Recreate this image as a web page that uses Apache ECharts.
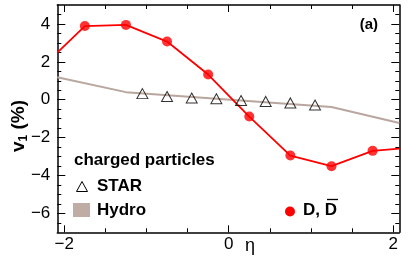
<!DOCTYPE html>
<html>
<head>
<meta charset="utf-8">
<script src="https://cdn.jsdelivr.net/npm/echarts@6/dist/echarts.min.js"></script>
<style>
html,body{margin:0;padding:0;background:#fff;}
#c{width:408px;height:262px;}
</style>
</head>
<body>
<div id="c"></div>
<script>
// ---- data ----
var dEta = [-1.75, -1.25, -0.75, -0.25, 0.25, 0.75, 1.25, 1.75];
var dV1 = [3.89, 3.95, 3.07, 1.33, -0.89, -2.95, -3.51, -2.70];
var dCurveEta = [-2.085, -1.75, -1.25, -0.75, -0.25, 0.25, 0.75, 1.25, 1.75, 2.075];
var dCurveV1 = [2.49, 3.89, 3.95, 3.07, 1.33, -0.89, -2.95, -3.51, -2.70, -2.58];
var starEta = [-1.05, -0.75, -0.45, -0.15, 0.15, 0.45, 0.75, 1.05];
var starV1 = [0.32, 0.17, 0.09, 0.05, -0.04, -0.09, -0.17, -0.28];
var hydroEta = [-2.085, -1.25, 1.25, 2.075];
var hydroV1 = [1.19, 0.40, -0.38, -1.23];
var xMajorTicks = [-2, 0, 2];
var xMinorTicks = [-1.5, -1, -0.5, 0.5, 1, 1.5];
var yMajorTicks = [-6, -4, -2, 0, 2, 4];
var yMinorTicks = [-6.5, -5.5, -5, -4.5, -3.5, -3, -2.5, -1.5, -1, -0.5, 0.5, 1, 1.5, 2.5, 3, 3.5, 4.5];
var xMin = -2.085, xMax = 2.075, yMin = -7, yMax = 5;

function zip(a, b) { return a.map(function (v, i) { return [v, b[i]]; }); }
var FONT = '"Liberation Sans", Arial, Helvetica, sans-serif';
function minusFmt(v) { return String(v).replace('-', '\u2212'); }

function xAxisDef(pos, ticks, len, showLine, labels) {
  return {
    type: 'value', position: pos, min: xMin, max: xMax,
    axisLine: { show: showLine, onZero: false, lineStyle: { color: '#000', width: 1.5 } },
    axisTick: { show: true, inside: true, length: len, customValues: ticks, lineStyle: { color: '#000', width: 1 } },
    axisLabel: labels ? { show: true, customValues: ticks, margin: 4, color: '#000', fontSize: 17, fontFamily: FONT, formatter: minusFmt } : { show: false },
    splitLine: { show: false }
  };
}
function yAxisDef(pos, ticks, len, showLine, labels) {
  return {
    type: 'value', position: pos, min: yMin, max: yMax,
    axisLine: { show: showLine, onZero: false, lineStyle: { color: '#000', width: 1.5 } },
    axisTick: { show: true, inside: true, length: len, customValues: ticks, lineStyle: { color: '#000', width: 1 } },
    axisLabel: labels ? { show: true, customValues: ticks, margin: 7, color: '#000', fontSize: 17, fontFamily: FONT, formatter: minusFmt } : { show: false },
    splitLine: { show: false }
  };
}

var chart = echarts.init(document.getElementById('c'), null, { renderer: 'canvas' });
chart.setOption({
  animation: false,
  backgroundColor: '#fff',
  grid: { left: 57.3, right: 8.7, top: 5, bottom: 29.7, containLabel: false },
  xAxis: [
    xAxisDef('bottom', xMajorTicks, 7, true, true),
    xAxisDef('bottom', xMinorTicks, 4, false, false),
    xAxisDef('top', xMajorTicks, 7, true, false),
    xAxisDef('top', xMinorTicks, 4, false, false)
  ],
  yAxis: [
    yAxisDef('left', yMajorTicks, 8, true, true),
    yAxisDef('left', yMinorTicks, 4, false, false),
    yAxisDef('right', yMajorTicks, 8, true, false),
    yAxisDef('right', yMinorTicks, 4, false, false)
  ],
  series: [
    {
      name: 'Hydro', type: 'line', xAxisIndex: 0, yAxisIndex: 0,
      data: zip(hydroEta, hydroV1), showSymbol: false, symbol: 'none',
      lineStyle: { color: '#b8a69f', width: 2 }, z: 1
    },
    {
      name: 'Dcurve', type: 'line', xAxisIndex: 0, yAxisIndex: 0,
      data: zip(dCurveEta, dCurveV1), showSymbol: false, symbol: 'none',
      lineStyle: { color: '#ff0000', width: 1.8 }, z: 2
    },
    {
      name: 'STAR', type: 'scatter', xAxisIndex: 0, yAxisIndex: 0,
      data: zip(starEta, starV1), symbol: 'triangle', symbolSize: [11, 10],
      itemStyle: { color: 'rgba(0,0,0,0)', borderColor: '#000', borderWidth: 1 }, z: 3
    },
    {
      name: 'D', type: 'scatter', xAxisIndex: 0, yAxisIndex: 0,
      data: zip(dEta, dV1), symbol: 'circle', symbolSize: 10,
      itemStyle: { color: '#ff0000' }, z: 4
    }
  ],
  graphic: [
    { type: 'text', x: 19, y: 126, rotation: Math.PI / 2,
      style: { text: '{v|v}{s|1}{v| (%)}', align: 'center', verticalAlign: 'middle',
        rich: { v: { fontSize: 19, fontWeight: 'bold', fontFamily: FONT, fill: '#000' },
                s: { fontSize: 12, fontWeight: 'bold', fontFamily: FONT, fill: '#000', padding: [9, 0, 0, 0] } } } },
    { type: 'text', x: 250, y: 246, style: { text: '\u03b7', fontSize: 18, fontFamily: FONT, fill: '#000', align: 'center', verticalAlign: 'middle' } },
    { type: 'text', x: 378, y: 25, style: { text: '(a)', fontSize: 15, fontWeight: 'bold', fontFamily: FONT, fill: '#000', align: 'right', verticalAlign: 'middle' } },
    { type: 'text', x: 74, y: 160, style: { text: 'charged particles', fontSize: 17, fontWeight: 'bold', fontFamily: FONT, fill: '#000', align: 'left', verticalAlign: 'middle' } },
    { type: 'polygon', shape: { points: [[82, 181.5], [76.5, 191.5], [87.5, 191.5]] }, style: { fill: 'none', stroke: '#000', lineWidth: 1 } },
    { type: 'text', x: 97, y: 186, style: { text: 'STAR', fontSize: 17, fontWeight: 'bold', fontFamily: FONT, fill: '#000', align: 'left', verticalAlign: 'middle' } },
    { type: 'rect', shape: { x: 73, y: 203, width: 17, height: 14 }, style: { fill: '#bfaca5' } },
    { type: 'text', x: 97, y: 210, style: { text: 'Hydro', fontSize: 17, fontWeight: 'bold', fontFamily: FONT, fill: '#000', align: 'left', verticalAlign: 'middle' } },
    { type: 'circle', shape: { cx: 290, cy: 211.5, r: 5 }, style: { fill: '#ff0000' } },
    { type: 'text', x: 303, y: 210, style: { text: 'D, D', fontSize: 17, fontWeight: 'bold', fontFamily: FONT, fill: '#000', align: 'left', verticalAlign: 'middle' } },
    { type: 'line', shape: { x1: 327, y1: 199.5, x2: 338, y2: 199.5 }, style: { stroke: '#000', lineWidth: 1.3 } }
  ]
});
</script>
</body>
</html>
